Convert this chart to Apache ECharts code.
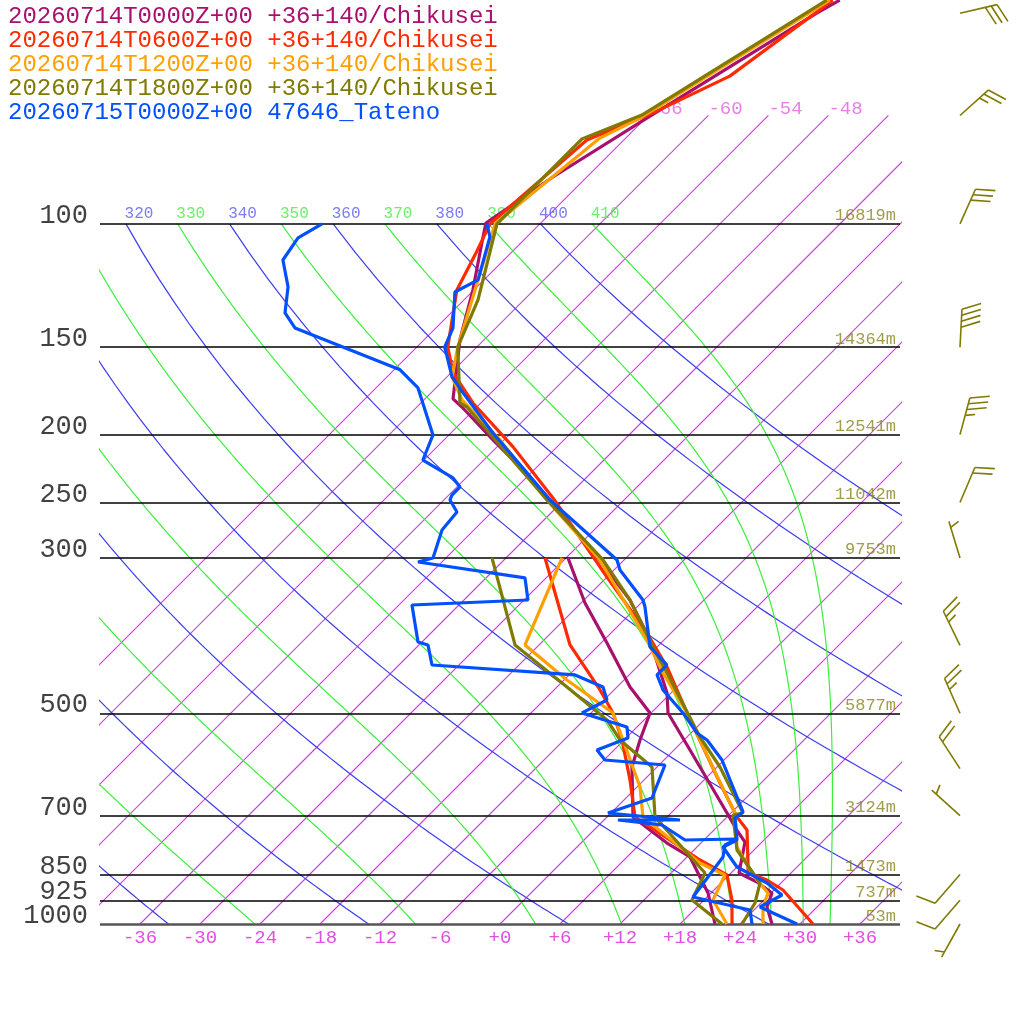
<!DOCTYPE html>
<html><head><meta charset="utf-8">
<script src="https://cdn.jsdelivr.net/npm/echarts@6/dist/echarts.min.js"></script>
<style>html,body{margin:0;padding:0;background:#fff}#c{width:1024px;height:1024px}</style>
</head><body><div id="c"></div>
<script>
// ---- data (temperature °C at pressure hPa) ----
const legendTexts = ["20260714T0000Z+00 +36+140/Chikusei","20260714T0600Z+00 +36+140/Chikusei","20260714T1200Z+00 +36+140/Chikusei","20260714T1800Z+00 +36+140/Chikusei","20260715T0000Z+00 47646_Tateno"];
const colors = ["#a8106e","#ff2a00","#ffa000","#7f7a00","#0050ff"];

const magP  = [47.9,50,70.6,85.7,99.7,106.5,124.3,146.5,177.8,182.6,203.5,222.4,247.9,300,344.5,392.9,467.7,499.5,564.2,694.1,738.9,763.6,845.5,870.9,903,945.6,1000];
const magT  = [-58.4,-59.4,-65.9,-69.4,-71.5,-69.9,-66.1,-62.4,-57.2,-55.5,-49.1,-43.7,-37.4,-26.8,-19.4,-13.4,-6.4,-4.3,1.6,11.6,14.6,16.3,18.8,21.5,24.1,25.0,27.2];
const magDP = [300,347.9,396.8,458.6,499.5,545.9,596.7,703.3,766.2,802.2,903,1000];
const magTd = [-29.8,-23.6,-17.4,-10.7,-6.1,-4.4,-2.5,2.6,8.6,12.3,17.7,21.5];

const redP  = [47.9,61.5,69.4,75.9,100,110.7,124.3,150,163.2,180.2,208.2,246.3,319.4,384,429.4,499.5,628.9,703.3,734,818.2,845.5,865.3,894.2,1000];
const redT  = [-59.1,-61.8,-65.8,-69.7,-71.0,-69.4,-67.7,-62.9,-59.8,-54.8,-46.4,-37.3,-24.0,-14.4,-9.0,-2.4,7.9,13.0,15.3,18.7,19.7,22.3,24.9,31.3];
const redDP = [300,399.4,463.1,499.5,545.9,622.7,703.3,810.2,851.1,924.1,1000];
const redTd = [-32.1,-20.9,-13.4,-9.8,-6.2,-1.4,2.8,13.6,17.8,20.8,23.2];

const oraP  = [47.9,70.6,75.4,100,150,165.4,178.4,203.5,247.9,302,392.9,437.9,499.5,658.5,694.1,776.3,851.1,903,945.6,1000];
const oraT  = [-59.4,-66.6,-68.6,-70.5,-61.9,-59.5,-56.2,-48.4,-37.7,-26.4,-13.7,-8.8,-2.4,10.0,12.4,16.0,20.4,23.7,24.6,26.3];
const oraDP = [300,399.4,448.2,499.5,545.9,637.2,703.3,818.2,851.1,924.1,1000];
const oraTd = [-30.4,-25.4,-17.7,-9.8,-6.1,0.3,3.6,13.9,17.6,18.9,22.7];

const oliP  = [47.9,69.9,75.6,100,128.4,150,180.2,182.6,247.9,302,344.5,402,437.9,540.6,596.7,694.1,698.6,784,873.8,933.2,1000];
const oliT  = [-59.7,-66.7,-70.3,-70.3,-64.6,-61.9,-56.1,-55.0,-37.7,-26.1,-19.4,-12.4,-8.4,1.3,6.3,13.2,12.4,16.3,21.9,23.4,24.2];
const oliDP = [300,399.4,458.6,511.2,545.9,596.7,703.3,845.5,924.1,1000];
const oliTd = [-37.4,-26.4,-17.0,-9.7,-6.4,-0.5,4.8,15.4,16.8,22.2];

const tatP  = [100,104.4,120.2,125.1,140.8,150,165.4,174.3,198.9,226.8,247.9,302,312.1,344.5,352.5,402,426.6,440.8,463.1,499.5,533.5,545.9,583.1,691.8,705.6,758.6,776.3,829.1,873.8,909,945.6,1000];
const tatT  = [-71.3,-69.7,-66.6,-67.7,-64.3,-63.2,-59.5,-56.8,-49.8,-42.4,-37.4,-24.7,-23.4,-18.1,-17.2,-12.7,-9.2,-9.2,-7.1,-2.8,0.6,2.3,5.8,13.1,12.9,15.3,14.6,18.0,22.6,25.3,24.3,29.7];
const tatDP = [100,104.7,112.6,123,134,140.8,161.6,171.5,200.2,217.4,230.6,237.5,243.9,247.9,257.9,273.6,300,304,320.4,344.5,350.2,395.5,399.4,426.6,440.8,458.6,478.7,499.5,523.1,542.4,564.2,583.1,592.8,660.7,694.1,710.3,710.3,722,758.6,756.1,771.2,802.2,915,955,1000];
const tatTd = [-87.8,-88.8,-88.1,-84.9,-82.6,-80.1,-65.4,-61.8,-55.6,-54.1,-49.3,-47.7,-47.7,-47.4,-45.5,-45.2,-43.3,-44.4,-32.1,-29.6,-40.7,-36.4,-35.1,-32.7,-17.4,-13.4,-11.7,-12.9,-7.0,-5.8,-7.7,-5.9,0.6,2.6,-0.3,7.6,1.4,6.3,10.1,15.2,14.6,15.6,16.6,23.6,25.2];

const isobars = [100,150,200,250,300,500,700,850,925,1000];
const heightLabels = ["16819m","14364m","12541m","11042m","9753m","5877m","3124m","1473m","737m","53m"];
const tempTicks = [-36,-30,-24,-18,-12,-6,0,6,12,18,24,30,36];
const isotherms = [-66,-60,-54,-48,-42,-36,-30,-24,-18,-12,-6,0,6,12,18,24,30,36];
const isoLabels = [-66,-60,-54,-48];
const dryThetas = [240,260,280,300,320,340,360,380,400];
const moistThetas = [250,270,290,310,330,350,370,390,410];
const labeledThetas = [320,330,340,350,360,370,380,390,400,410];

const barbP   = [50,70,100,150,200,250,300,400,500,600,700,850,925,1000];
const barbDir = [77,48,24,3,15,23,343,334,336,327,312,221,221,209];
const barbKt  = [30,25,30,40,35,20,5,25,25,20,5,10,10,5];

// ---- geometry helpers ----
const K = 30.4;
const sk = (T,p) => T + K*Math.log(1000/p);
const pts = (P,T) => P.map((p,i)=>[sk(T[i],p),p]);
const es = Tc => 6.112*Math.exp(17.67*Tc/(Tc+243.5));
const rs = (Tc,p) => {const e=es(Tc);return 0.622*e/(p-e);};
function moistPath(T0){
  const Rd=287.04,cp=1005.7,L=2.501e6,eps=0.622;
  let T=T0+273.15, lp=Math.log(1000); const out=[[T0,1000]];
  const end=Math.log(100), n=450, d=(end-lp)/n;
  for(let i=0;i<n;i++){
    const p=Math.exp(lp), r=rs(T-273.15,p);
    const dT=(Rd*T+L*r)/(cp+L*L*r*eps/(Rd*T*T));
    T+=dT*d; lp+=d;
    out.push([T-273.15,Math.exp(lp)]);
  }
  return out;
}
function moistFor(theta){
  let lo=-80,hi=50;
  for(let k=0;k<40;k++){
    const m=(lo+hi)/2, path=moistPath(m), t=path[path.length-1][0]+273.15;
    const th=t*Math.pow(10,0.2857);
    if(th>theta) hi=m; else lo=m;
  }
  return moistPath((lo+hi)/2);
}

const series=[];
const FONT="Liberation Mono";
function bg(data,color,w){return {type:'line',silent:true,symbol:'none',clip:true,z:1,color:color,
  itemStyle:{color:color},data:data,lineStyle:{color:color,width:w}};}
// isotherms
isotherms.forEach(T=>series.push(bg([[sk(T,1000),1000],[sk(T,70),70]],'#cc3ee0',1.1)));
// dry adiabats
const thLab=[];
dryThetas.forEach(th=>{
  const d=[];for(let p=1000;p>=100;p-=10){d.push([sk(th*Math.pow(p/1000,0.2857)-273.15,p),p]);}
  series.push(bg(d,'#3c3cf0',1.2));
  if(labeledThetas.includes(th)) thLab.push({value:d[d.length-1],th,c:'#5a5af0'});
});
moistThetas.forEach(th=>{
  const d=moistFor(th).map(q=>[sk(q[0],q[1]),q[1]]);
  series.push(bg(d,'#3cee3c',1.2));
  if(labeledThetas.includes(th)) thLab.push({value:d[d.length-1],th,c:'#44ee44'});
});
series.push({type:'scatter',silent:true,symbolSize:0,z:3,clip:false,
  data:thLab.map(o=>({value:o.value,label:{color:o.c}})),
  label:{show:true,position:'top',distance:2,offset:[13,0],fontFamily:FONT,fontSize:16,
    formatter:p=>String(thLab[p.dataIndex].th)}});
// isobars
series.push({type:'line',silent:true,symbol:'none',data:[],z:2,
  markLine:{silent:true,symbol:'none',label:{show:false},
    data:isobars.map(p=>({yAxis:p,lineStyle:{color:p===1000?'#555':'#000',width:p===1000?2.5:1.5,type:'solid'}}))}});
// pressure labels & heights
series.push({type:'scatter',silent:true,symbolSize:0,clip:false,data:isobars.map(p=>[-40,p]),
  label:{show:true,position:'left',distance:12,offset:[0,-8],fontFamily:FONT,fontSize:27,color:'#111',
    formatter:p=>String(isobars[p.dataIndex])}});
series.push({type:'scatter',silent:true,symbolSize:0,clip:false,data:isobars.map(p=>[40,p]),
  label:{show:true,position:'left',distance:4,offset:[0,-8],fontFamily:FONT,fontSize:17,color:'#8a8420',
    formatter:p=>heightLabels[p.dataIndex]}});
// isotherm labels
series.push({type:'scatter',silent:true,symbolSize:0,clip:false,z:1,data:isoLabels.map(T=>[sk(T,70),70]),
  label:{show:true,position:'right',distance:0,offset:[0,-7],fontFamily:FONT,fontSize:19,color:'#e060e0',
    formatter:p=>String(isoLabels[p.dataIndex])}});
// profiles
const prof=[[magP,magT,magDP,magTd],[redP,redT,redDP,redTd],[oraP,oraT,oraDP,oraTd],[oliP,oliT,oliDP,oliTd],[tatP,tatT,tatDP,tatTd]];
prof.forEach((s,i)=>{
  [[s[0],s[1]],[s[2],s[3]]].forEach(a=>series.push({type:'line',silent:true,symbol:'none',clip:true,z:5+i,
    color:colors[i],data:pts(a[0],a[1]),lineStyle:{color:colors[i],width:3.2}}));
});
// wind barbs
series.push({type:'custom',xAxisIndex:1,yAxisIndex:1,silent:true,clip:false,
  data:barbP.map((p,i)=>[0,p,barbDir[i],barbKt[i]]),
  renderItem:(params,api)=>{
    const c=api.coord([api.value(0),api.value(1)]);
    const a=api.value(2)*Math.PI/180, kt=api.value(3), Ls=38, sp=6;
    const ux=Math.sin(a), uy=-Math.cos(a);
    const fa=a+70*Math.PI/180, fx=Math.sin(fa), fy=-Math.cos(fa);
    const tip=[c[0]+ux*Ls,c[1]+uy*Ls];
    const st={stroke:'#7f7a00',lineWidth:1.6};
    const ch=[{type:'line',shape:{x1:c[0],y1:c[1],x2:tip[0],y2:tip[1]},style:st}];
    let full=Math.floor(kt/10), half=(kt%10)>=5?1:0, k=0;
    for(let j=0;j<full;j++,k++){const b=[tip[0]-ux*sp*k,tip[1]-uy*sp*k];
      ch.push({type:'line',shape:{x1:b[0],y1:b[1],x2:b[0]+fx*20,y2:b[1]+fy*20},style:st});}
    if(half){ if(full===0)k=1; const b=[tip[0]-ux*sp*k,tip[1]-uy*sp*k];
      ch.push({type:'line',shape:{x1:b[0],y1:b[1],x2:b[0]+fx*10,y2:b[1]+fy*10},style:st});}
    return {type:'group',children:ch};
  }});

const chart=echarts.init(document.getElementById('c'),null,{renderer:'canvas'});
chart.setOption({
  animation:false,backgroundColor:'#fff',
  grid:[{left:100,top:0,width:800,height:924},{left:900,top:0,width:120,height:924}],
  xAxis:[{type:'value',min:-40,max:40,splitLine:{show:false},axisLine:{show:false},
    axisTick:{show:false},
    axisLabel:{customValues:tempTicks,fontFamily:FONT,fontSize:19,color:'#e050e0',margin:4,
      formatter:v=>v>=0?'+'+v:String(v)}},
    {type:'value',gridIndex:1,min:-2,max:2,show:false}],
  yAxis:[{type:'log',min:47.88,max:1000,inverse:true,show:false},
    {type:'log',gridIndex:1,min:47.88,max:1000,inverse:true,show:false}],
  graphic:legendTexts.map((t,i)=>({type:'text',left:8,top:5+24*i,
    style:{text:t,fill:colors[i],font:'24px "Liberation Mono"'}})),
  series
});
</script></body></html>
